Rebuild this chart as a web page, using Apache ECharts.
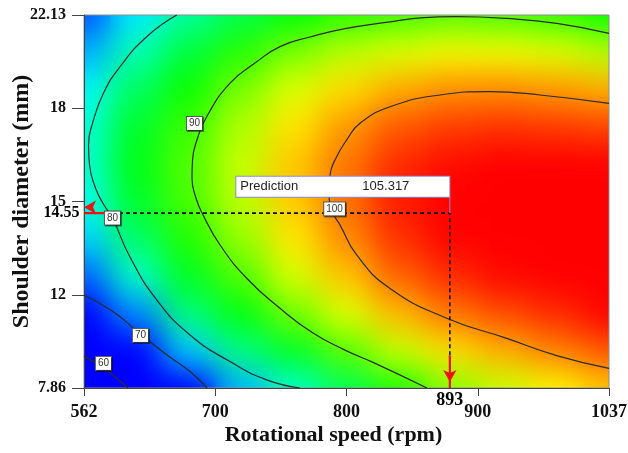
<!DOCTYPE html>
<html>
<head>
<meta charset="utf-8">
<script src="https://cdn.jsdelivr.net/npm/echarts@6/dist/echarts.min.js"></script>
<style>
html,body{margin:0;padding:0;background:#fff;}
#wrap{position:relative;width:628px;height:453px;overflow:hidden;}
#clip{position:absolute;left:84px;top:15px;width:525px;height:373px;overflow:hidden;}
.hm{position:absolute;left:-26px;top:-19px;width:577px;height:411px;}
#hmBlur{filter:blur(16px);}
#main{position:absolute;left:0;top:0;width:628px;height:453px;}
</style>
</head>
<body>
<div id="wrap">
  <div id="clip"><div id="hmBase" class="hm"></div><div id="hmBlur" class="hm"></div></div>
  <div id="main"></div>
</div>
<script>
// ---- values ----
const speedGrid = [562, 609.5, 657, 704.5, 752, 799.5, 847, 894.5, 942, 989.5, 1037];
// rows listed from top (22.13 mm) to bottom (7.86 mm)
const diameterGrid = [22.13, 20.703, 19.276, 17.849, 16.422, 14.995, 13.568, 12.141, 10.714, 9.287, 7.86];
const responseGrid = [
  [71.8, 76.8, 81.2, 84.2, 86.7, 88.4, 89.0, 89.8, 89.5, 88.7, 87.2],
  [74.8, 80.4, 84.8, 88.2, 91.0, 93.2, 94.4, 95.4, 95.2, 94.5, 93.1],
  [77.6, 83.5, 87.3, 91.0, 94.3, 96.8, 98.6, 99.6, 99.7, 99.2, 98.4],
  [79.1, 85.5, 89.0, 92.8, 96.5, 99.3, 101.7, 102.7, 103.1, 102.8, 102.4],
  [79.3, 86.2, 89.7, 93.6, 97.6, 100.6, 103.4, 104.6, 105.2, 105.3, 105.3],
  [78.3, 85.4, 89.4, 93.3, 97.5, 100.8, 104.0, 105.3, 106.2, 106.6, 107.0],
  [76.0, 83.2, 88.1, 92.0, 96.4, 99.8, 103.2, 104.9, 106.0, 106.7, 107.5],
  [72.4, 79.6, 85.8, 89.7, 94.1, 97.7, 101.3, 103.4, 104.7, 105.7, 106.8],
  [67.5, 73.6, 82.5, 86.5, 90.7, 94.4, 98.1, 100.6, 102.2, 103.5, 104.9],
  [61.3, 66.5, 75.8, 82.2, 85.8, 89.9, 93.6, 96.7, 98.5, 100.2, 101.8],
  [54.5, 61.0, 67.0, 75.0, 79.6, 83.9, 87.9, 91.5, 93.7, 95.7, 97.6]
];

const contour60 = [[562, 9.08], [580.1, 8.61], [601.8, 7.86]];
const contour70 = [[562, 11.41], [588.2, 10.79], [612.7, 9.93], [637.1, 9.12], [657.9, 8.49], [673.3, 7.86]];
const contour80 = [[645.9, 22.13], [618.7, 21.30], [594.6, 20.15], [580.1, 19.18], [570.1, 18.04], [566.1, 17.16],
  [567.0, 16.39], [572.4, 15.51], [580.1, 14.86], [587.8, 14.36], [603.6, 12.87], [627.8, 11.23],
  [657.9, 9.89], [694.1, 8.87], [727.3, 8.17], [757.4, 7.86]];
const contour90 = [[1037, 21.43], [989.7, 21.81], [944.5, 22.00], [899.2, 22.07], [866.0, 22.02], [838.9, 21.87],
  [798.1, 21.61], [766.5, 21.29], [739.3, 20.92], [716.7, 20.29], [694.1, 19.52], [673.0, 18.24],
  [664.2, 17.35], [660.2, 16.58], [659.7, 15.89], [663.3, 15.13], [669.7, 14.48], [685.1, 13.33],
  [709.2, 12.06], [739.3, 10.91], [769.2, 9.96], [798.1, 9.31], [823.5, 8.84], [872.3, 7.86]];
const contour100 = [[1037, 18.75], [974.6, 19.07], [929.3, 19.20], [884.1, 19.07], [838.9, 18.62], [811.7, 17.99],
  [799.7, 17.35], [790.0, 16.66], [784.6, 16.01], [783.7, 15.36], [787.3, 14.56], [793.6, 14.10],
  [808.7, 12.95], [838.9, 11.67], [890.2, 10.53], [944.5, 9.76], [989.7, 9.10], [1037, 8.61]];
const contourLevels = ['60', '70', '80', '90', '100'];
const contourLabelPos = [[579.6, 8.80], [613.1, 9.87], [587.8, 14.36], [662.0, 17.98], [788.7, 14.71]];

const xTickPos = [562, 680.75, 799.5, 918.25, 1037];
const xTickText = ['562', '700', '800', '900', '1037'];
const yTickPos = [7.86, 11.4275, 14.995, 18.5625, 22.13];
const yTickText = ['7.86', '12', '15', '18', '22.13'];

const predSpeed = 893;
const predDiameter = 14.55;
const predValue = 105.317;

// colour scale stops (response value -> colour)
const colorStopValues = [69, 77.5, 87, 95.5, 105];
const colorStopColors = [[0, 0, 255], [0, 255, 255], [0, 255, 0], [255, 255, 0], [255, 0, 0]];

// ---- colour list for the visualMap (evenly spaced, 1 unit apart) ----
const vmMin = 50, vmMax = 114;
function colorAt(v) {
  if (v <= colorStopValues[0]) return colorStopColors[0];
  const n = colorStopValues.length;
  if (v >= colorStopValues[n - 1]) return colorStopColors[n - 1];
  let i = 0;
  while (v > colorStopValues[i + 1]) i++;
  const t = (v - colorStopValues[i]) / (colorStopValues[i + 1] - colorStopValues[i]);
  const a = colorStopColors[i], b = colorStopColors[i + 1];
  return a.map((c, k) => Math.round(c + (b[k] - c) * t));
}
const vmColors = [];
for (let v = vmMin; v <= vmMax; v++) {
  const c = colorAt(v);
  vmColors.push('rgb(' + c.join(',') + ')');
}

// ---- heatmap layers ----
const xMin = speedGrid[0], xMax = speedGrid[speedGrid.length - 1];
const yMin = diameterGrid[diameterGrid.length - 1], yMax = diameterGrid[0];
const nRows = diameterGrid.length;
const cells = [];
responseGrid.forEach((row, r) => row.forEach((v, c) => cells.push([c, nRows - 1 - r, v])));

const hmOption = {
  animation: false,
  grid: {left: 0, right: 0, top: 0, bottom: 0, outerBoundsMode: 'none'},
  xAxis: {type: 'category', data: speedGrid.map(String), show: false},
  yAxis: {type: 'category', data: diameterGrid.slice().reverse().map(String), show: false},
  visualMap: {show: false, type: 'continuous', min: vmMin, max: vmMax, seriesIndex: 0, inRange: {color: vmColors}},
  series: [{type: 'heatmap', data: cells, itemStyle: {borderWidth: 0}, emphasis: {disabled: true}, progressive: 0}]
};
echarts.init(document.getElementById('hmBase')).setOption(hmOption);
echarts.init(document.getElementById('hmBlur')).setOption(hmOption);

// ---- main chart ----
const serif = 'Liberation Serif';
const sans = 'Liberation Sans';
function tickFmt(pos, txt) {
  return function (v) {
    const i = pos.findIndex(p => Math.abs(p - v) < 1e-6);
    return i >= 0 ? txt[i] : '';
  };
}
const contourLines = [contour60, contour70, contour80, contour90, contour100];
const series = contourLines.map((pts, i) => ({
  type: 'line', name: 'c' + contourLevels[i], data: pts, smooth: 0.5, symbol: 'none', z: 2,
  lineStyle: {color: '#2b2b2b', width: 1.2}, silent: true, clip: true
}));
const arrowX = 28, arrowY = 1.25, leader = 0.63;
series.push({
  type: 'line', data: [[xMin, predDiameter], [predSpeed, predDiameter], [predSpeed, yMin]],
  symbol: 'none', z: 3, lineStyle: {color: '#111', width: 1.6, type: [4, 3]}, silent: true
});
series.push({
  type: 'line', data: [[predSpeed, predDiameter], [predSpeed, predDiameter + leader]],
  symbol: 'none', z: 3, lineStyle: {color: '#8a8ad8', width: 1}, silent: true
});
series.push({
  type: 'line', z: 4, silent: true, clip: false, showSymbol: true,
  data: [{value: [xMin + arrowX, predDiameter], symbol: 'none'},
         {value: [xMin, predDiameter], symbol: 'arrow', symbolSize: [10, 12], symbolRotate: 90, symbolOffset: [0, '-50%']}],
  lineStyle: {color: '#ee1111', width: 2.2}, itemStyle: {color: '#ee1111'}
});
series.push({
  type: 'line', z: 4, silent: true, clip: false, showSymbol: true,
  data: [{value: [predSpeed, yMin + arrowY], symbol: 'none'},
         {value: [predSpeed, yMin], symbol: 'arrow', symbolSize: [10, 12], symbolRotate: 180, symbolOffset: [0, '-50%']}],
  lineStyle: {color: '#ee1111', width: 2.2}, itemStyle: {color: '#ee1111'}
});
series.push({
  type: 'scatter', z: 5, silent: true, clip: false, symbolSize: 1, itemStyle: {color: 'transparent'},
  data: contourLabelPos.map((p, i) => [p[0], p[1], contourLevels[i]]),
  label: {
    show: true, position: 'inside', formatter: p => p.data[2], opacity: 1,
    fontFamily: sans, fontSize: 10, color: '#333', backgroundColor: '#ffffff',
    borderColor: '#555', borderWidth: 1, padding: [2, 2, 1, 2],
    shadowColor: 'rgba(0,0,0,0.45)', shadowOffsetX: 1, shadowOffsetY: 1, shadowBlur: 0
  }
});
series.push({
  type: 'scatter', z: 6, silent: true, clip: false, symbolSize: 1, itemStyle: {color: 'transparent'},
  data: [[predSpeed, predDiameter, predValue]],
  label: {
    show: true, position: [0, 0], align: 'right', verticalAlign: 'bottom', offset: [0, -16], opacity: 1,
    formatter: p => '{a|Prediction}{b|' + p.data[2].toFixed(3) + '}',
    backgroundColor: '#ffffff', borderColor: '#8a8ad8', borderWidth: 1, padding: [2, 40, 2, 4],
    rich: {
      a: {fontFamily: sans, fontSize: 13, color: '#222', width: 122, lineHeight: 16, align: 'left'},
      b: {fontFamily: sans, fontSize: 13, color: '#222', lineHeight: 16, align: 'left'}
    }
  }
});
series.push({
  type: 'scatter', z: 6, silent: true, clip: false, symbolSize: 1, itemStyle: {color: 'transparent'},
  data: [[predSpeed, yMin]],
  label: {show: true, position: 'bottom', distance: 3, formatter: String(predSpeed), opacity: 1,
    fontFamily: serif, fontWeight: 'bold', fontSize: 18, color: '#000'}
});
series.push({
  type: 'scatter', z: 6, silent: true, clip: false, symbolSize: 1, itemStyle: {color: 'transparent'},
  data: [[xMin, predDiameter]],
  label: {show: true, position: 'left', distance: 4, formatter: predDiameter.toFixed(2), opacity: 1,
    fontFamily: serif, fontWeight: 'bold', fontSize: 16, color: '#000'}
});

const main = echarts.init(document.getElementById('main'));
main.setOption({
  animation: false,
  backgroundColor: 'transparent',
  grid: {left: 84, right: 19, top: 15, bottom: 65, show: true, borderColor: '#8c8c8c', borderWidth: 1,
    backgroundColor: 'transparent', containLabel: false, outerBoundsMode: 'none'},
  xAxis: {
    type: 'value', min: xMin, max: xMax,
    name: 'Rotational speed (rpm)', nameLocation: 'middle', nameGap: 36, nameMoveOverlap: false,
    nameTextStyle: {fontFamily: serif, fontWeight: 'bold', fontSize: 22, color: '#111', padding: [0, 26, 0, 0]},
    axisLine: {show: true, onZero: false, lineStyle: {color: '#444'}},
    axisTick: {show: true, customValues: xTickPos, length: 8, lineStyle: {color: '#444'}},
    axisLabel: {customValues: xTickPos, formatter: tickFmt(xTickPos, xTickText), margin: 15,
      fontFamily: serif, fontWeight: 'bold', fontSize: 18, color: '#111'},
    splitLine: {show: false}
  },
  yAxis: {
    type: 'value', min: yMin, max: yMax,
    name: 'Shoulder diameter (mm)', nameLocation: 'middle', nameGap: 50, nameMoveOverlap: false,
    nameTextStyle: {fontFamily: serif, fontWeight: 'bold', fontSize: 24, color: '#111'},
    axisLine: {show: true, onZero: false, lineStyle: {color: '#444'}},
    axisTick: {show: true, customValues: yTickPos, length: 12, lineStyle: {color: '#444'}},
    axisLabel: {customValues: yTickPos, formatter: tickFmt(yTickPos, yTickText), margin: 18,
      fontFamily: serif, fontWeight: 'bold', fontSize: 16, color: '#111'},
    splitLine: {show: false}
  },
  series: series
});
</script>
</body>
</html>
